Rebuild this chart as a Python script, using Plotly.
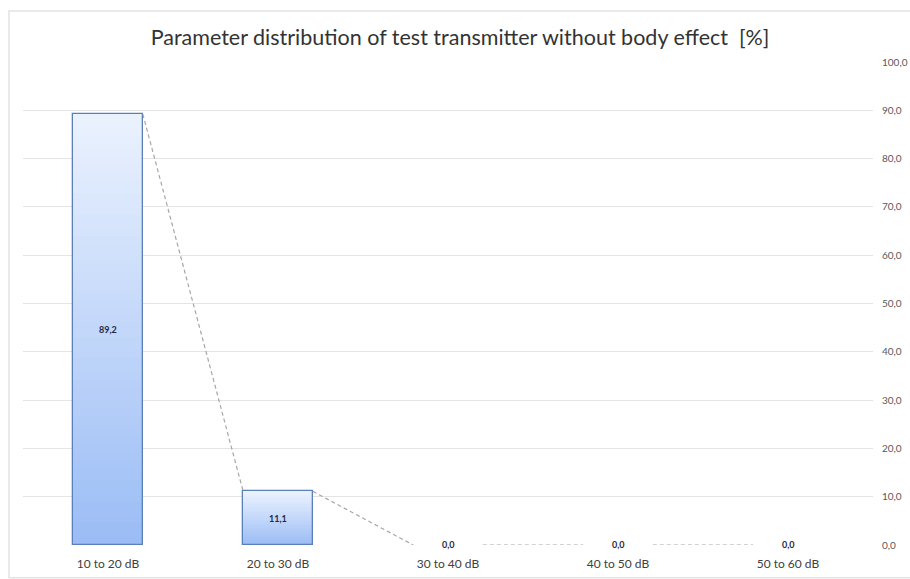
import plotly.graph_objects as go

# Data
categories = ["10 to 20 dB", "20 to 30 dB", "30 to 40 dB", "40 to 50 dB", "50 to 60 dB"]
shares = [89.2, 11.1, 0.0, 0.0, 0.0]
y_ticks = [0, 10, 20, 30, 40, 50, 60, 70, 80, 90, 100]

title_text = "Parameter distribution of test transmitter without body effect  [%]"

BAR_WIDTH = 0.41
N_SLICES = 60
TOP_RGB = (235, 242, 254)
BOTTOM_RGB = (154, 188, 245)
FONT = "Lato, Carlito, sans-serif"


def blend(t):
    r = [round(b + (a - b) * t) for a, b in zip(TOP_RGB, BOTTOM_RGB)]
    return f"rgb({r[0]},{r[1]},{r[2]})"


def fmt(v):
    return f"{v:.1f}".replace(".", ",")


x_pos = list(range(len(categories)))
fig = go.Figure()

# vertical gradient fill: each bar is split into thin stacked slices
for k in range(N_SLICES):
    t = (k + 0.5) / N_SLICES
    fig.add_trace(go.Bar(
        x=x_pos,
        y=[v / N_SLICES * 1.02 for v in shares],
        base=[v * k / N_SLICES for v in shares],
        width=BAR_WIDTH,
        marker=dict(color=blend(t), line=dict(width=0)),
        hoverinfo="skip",
        showlegend=False,
    ))

# outline of each bar (empty bars get no outline)
fig.add_trace(go.Bar(
    x=x_pos,
    y=shares,
    base=[0] * len(shares),
    width=BAR_WIDTH,
    marker=dict(
        color="rgba(0,0,0,0)",
        line=dict(color="#5b7fb8", width=[1.3 if v > 0 else 0 for v in shares]),
    ),
    hovertemplate="%{y:.1f}<extra></extra>",
    showlegend=False,
))

# series lines joining neighbouring bar tops
for i in range(len(shares) - 1):
    fig.add_trace(go.Scatter(
        x=[x_pos[i] + BAR_WIDTH / 2, x_pos[i + 1] - BAR_WIDTH / 2],
        y=[shares[i], shares[i + 1]],
        mode="lines",
        line=dict(color="#a6a6a6", width=1.2, dash="4px,3px"),
        hoverinfo="skip",
        showlegend=False,
    ))

# value labels at the middle of each bar
for xi, v in zip(x_pos, shares):
    fig.add_annotation(
        x=xi, y=v / 2, text=f"<b>{fmt(v)}</b>", showarrow=False,
        font=dict(family=FONT, size=9, color="#1f2a44"),
        yshift=1 if v == 0 else 0,
    )

# light outer chart frame
fig.add_shape(
    type="rect", xref="paper", yref="paper",
    x0=-0.0165, x1=1.1, y0=-0.068, y1=1.1056,
    line=dict(color="#e3e3e3", width=1.5), fillcolor="rgba(0,0,0,0)", layer="below",
)

fig.update_layout(
    width=910, height=579,
    margin=dict(l=23, r=37, t=62, b=34, autoexpand=False),
    paper_bgcolor="white", plot_bgcolor="white",
    barmode="overlay",
    bargap=0,
    title=dict(
        text=title_text, x=460 / 910, xref="container", xanchor="center",
        y=1 - 37 / 579, yanchor="middle",
        font=dict(family=FONT, size=21.5, color="#333333"),
    ),
    xaxis=dict(
        range=[-0.5, len(categories) - 0.5],
        tickmode="array", tickvals=x_pos, ticktext=categories,
        showgrid=False, zeroline=False, showline=False, ticks="",
        ticklabelstandoff=10, automargin=False,
        tickfont=dict(family=FONT, size=12, color="#404040"),
        fixedrange=True,
    ),
    yaxis=dict(
        side="right", range=[0, 100],
        tickmode="array", tickvals=y_ticks, ticktext=[fmt(v) for v in y_ticks],
        showgrid=True, gridcolor="#e4e4e4", gridwidth=1,
        zeroline=False, showline=False, ticks="",
        ticklabelstandoff=8, automargin=False,
        tickfont=dict(family=FONT, size=10, color="#595959"),
        fixedrange=True,
    ),
)

fig.write_html("out.html")
